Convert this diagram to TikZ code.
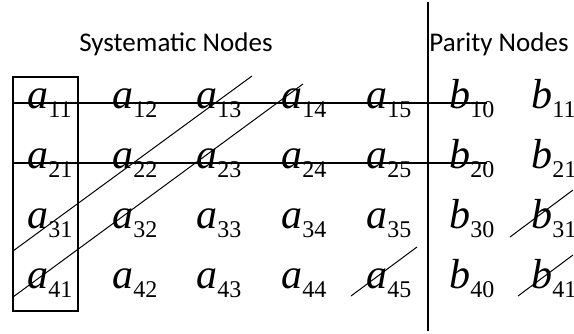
\documentclass[tikz,border=0pt]{standalone}
\usepackage{fontspec}
\setmainfont{Liberation Serif}
\newfontfamily\titlefont{Carlito}
\usepackage{tikz}
\usetikzlibrary{positioning, calc}

% entry: italic letter with an upright index
\newcommand{\ent}[2]{\textit{#1}\raisebox{-4.5pt}{\fontsize{12}{13}\selectfont #2}}

\begin{document}
\begin{tikzpicture}[
  x=0.5pt, y=-0.5pt,
  ent/.style={anchor=base west, inner sep=0pt, font=\fontsize{21}{25}\selectfont},
  title/.style={anchor=base, inner sep=0pt, font=\titlefont\fontsize{13.5}{16}\selectfont},
  colbox/.style={rectangle, draw, line width=1pt, minimum width=32.5pt, minimum height=117pt, inner sep=0pt},
  strike/.style={line width=1pt},
  slash/.style={line width=0.5pt},
  sep/.style={line width=1pt},
]
  \useasboundingbox (0,0) rectangle (574,333);

  % Titles
  \node[title] (sys) at (176,51) {Systematic Nodes};
  \node[title] (par) at (499,51) {Parity Nodes};

  % Systematic nodes
  \node[ent] (a11) at (27,108) {\ent{a}{11}};
  \node[ent] (a12) at (112,108) {\ent{a}{12}};
  \node[ent] (a13) at (196,108) {\ent{a}{13}};
  \node[ent] (a14) at (281,108) {\ent{a}{14}};
  \node[ent] (a15) at (366,108) {\ent{a}{15}};

  \node[ent] (a21) at (27,168) {\ent{a}{21}};
  \node[ent] (a22) at (112,168) {\ent{a}{22}};
  \node[ent] (a23) at (196,168) {\ent{a}{23}};
  \node[ent] (a24) at (281,168) {\ent{a}{24}};
  \node[ent] (a25) at (366,168) {\ent{a}{25}};

  \node[ent] (a31) at (27,228) {\ent{a}{31}};
  \node[ent] (a32) at (112,228) {\ent{a}{32}};
  \node[ent] (a33) at (196,228) {\ent{a}{33}};
  \node[ent] (a34) at (281,228) {\ent{a}{34}};
  \node[ent] (a35) at (366,228) {\ent{a}{35}};

  \node[ent] (a41) at (27,288) {\ent{a}{41}};
  \node[ent] (a42) at (112,288) {\ent{a}{42}};
  \node[ent] (a43) at (196,288) {\ent{a}{43}};
  \node[ent] (a44) at (281,288) {\ent{a}{44}};
  \node[ent] (a45) at (366,288) {\ent{a}{45}};

  % Parity nodes
  \node[ent] (b10) at (449,108) {\ent{b}{10}};
  \node[ent] (b11) at (531,108) {\ent{b}{11}};
  \node[ent] (b20) at (449,168) {\ent{b}{20}};
  \node[ent] (b21) at (531,168) {\ent{b}{21}};
  \node[ent] (b30) at (449,228) {\ent{b}{30}};
  \node[ent] (b31) at (531,228) {\ent{b}{31}};
  \node[ent] (b40) at (449,288) {\ent{b}{40}};
  \node[ent] (b41) at (531,288) {\ent{b}{41}};

  % First column frame
  \node[colbox] (col1) at (45.5,194) {};

  % Separator
  \coordinate (vtop) at (428,2);
  \coordinate (vbot) at (428,331);
  \draw[sep] (vtop) -- (vbot);

  % Row checks
  \draw[strike, shorten >=4pt] (col1.west |- a11.mid) -- (b10.mid east);
  \draw[strike, shorten >=4pt] (col1.west |- a21.mid) -- (b20.mid east);

  % Diagonal checks
  \coordinate (d1s) at (13,251);
  \coordinate (d1e) at (252,76);
  \coordinate (d2s) at (13,297);
  \coordinate (d2e) at (303,84);
  \coordinate (d3s) at (351,296);
  \coordinate (d3e) at (417,247);
  \coordinate (d4s) at (510,237);
  \coordinate (d4e) at (573,190);
  \coordinate (d5s) at (518,296);
  \coordinate (d5e) at (573,255);
  \draw[slash] (d1s) -- (d1e);
  \draw[slash] (d2s) -- (d2e);
  \draw[slash] (d3s) -- (d3e);
  \draw[slash] (d4s) -- (d4e);
  \draw[slash] (d5s) -- (d5e);
\end{tikzpicture}
\end{document}
